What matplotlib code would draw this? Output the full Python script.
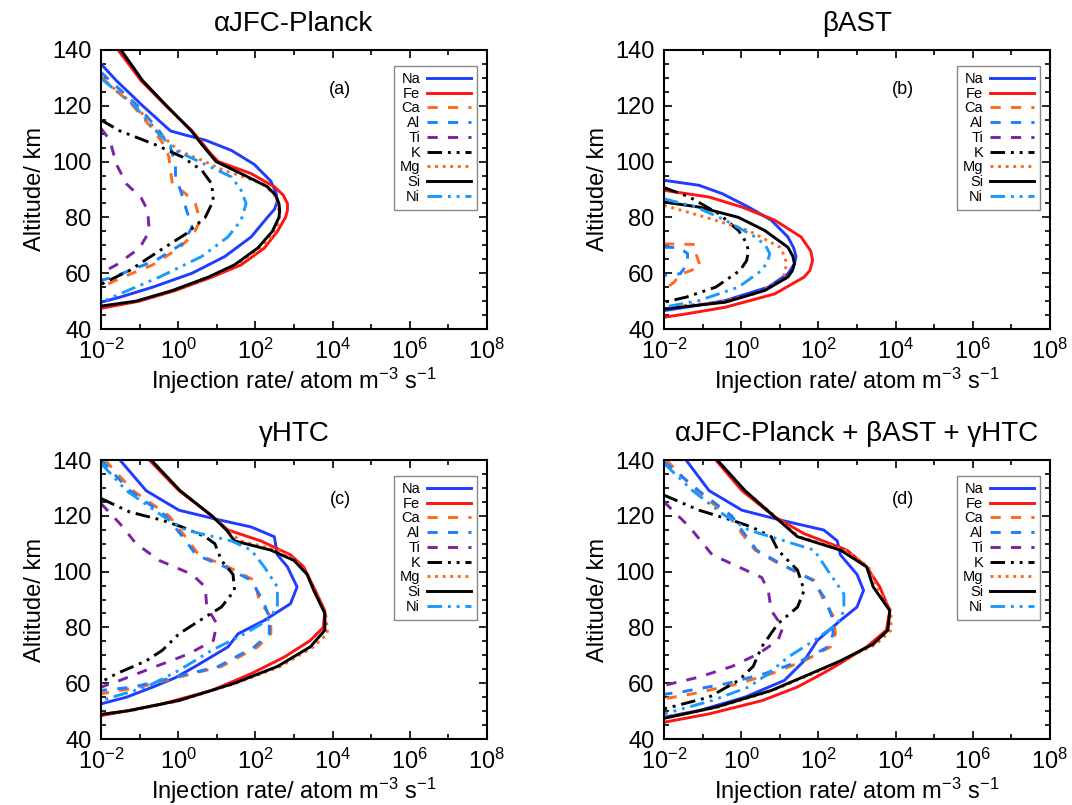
"""
Perfiles de inyeccion de metales meteoricos (4 paneles)
"""

import numpy as np
import matplotlib.pyplot as plt
from matplotlib.ticker import NullFormatter

plt.rcParams['font.family'] = ['Liberation Sans', 'DejaVu Sans']
plt.rcParams['mathtext.fontset'] = 'custom'
plt.rcParams['mathtext.rm'] = 'Liberation Sans'
plt.rcParams['mathtext.it'] = 'Liberation Sans'

# especies y titulos
especies = ['Na', 'Fe', 'Ca', 'Al', 'Ti', 'K', 'Mg', 'Si', 'Ni']
titulos = ['\u03b1JFC-Planck', '\u03b2AST', '\u03b3HTC',
           '\u03b1JFC-Planck + \u03b2AST + \u03b3HTC']
etiquetas = ['(a)', '(b)', '(c)', '(d)']
xticks_exp = [-2, 0, 2, 4, 6, 8]
yticks_km = [40, 60, 80, 100, 120, 140]

# datos: pares (altitud km, log10 tasa de inyeccion)
# panel (a)
A_NA = [(135, -2), (129, -1.6), (120, -0.92), (113.6, -0.41), (111, -0.2), (109.5, 0.19),
        (107.7, 0.70), (104, 1.38), (99, 1.97), (93, 2.4), (89, 2.53), (86, 2.57), (83, 2.5),
        (80, 2.31), (73, 1.89), (66, 1.21), (60, 0.36), (55, -0.66), (51.4, -1.51), (49.6, -2)]
A_FE = [(140, -1.56), (129, -0.96), (120, -0.32), (111, 0.36), (106, 0.66), (103, 0.83),
        (100, 1.04), (95.7, 1.89), (91, 2.49), (88, 2.72), (85, 2.83), (82.5, 2.83), (80, 2.78),
        (75, 2.57), (69, 2.23), (63, 1.63), (58.6, 0.87), (53.8, -0.07), (50, -1.0), (47.4, -2)]
A_CA = [(130.4, -2), (120, -1.17), (111, -0.62), (106, -0.37), (101.7, -0.24), (96.9, -0.2),
        (92, -0.15), (88.5, 0.19), (85, 0.44), (79, 0.57), (74, 0.40), (69, 0.02), (63, -0.66),
        (58.6, -1.43), (55, -2)]
A_AL = [(132, -2), (120, -1.05), (111, -0.49), (105, -0.2), (99, -0.07), (94.5, -0.07),
        (89.7, 0.06), (83.7, 0.19), (76.5, 0.36), (70.5, 0.10), (64.6, -0.58), (58.6, -1.69),
        (57.4, -2)]
A_TI = [(111.9, -2), (107.7, -1.77), (99, -1.6), (92, -1.34), (87, -0.96), (82.5, -0.79),
        (75, -0.75), (69, -1.0), (63, -1.6), (60, -2)]
A_K = [(114.9, -2), (111, -1.51), (106, -0.58), (101.7, 0.10), (96.9, 0.61), (92, 0.87),
       (86, 0.91), (80, 0.70), (74, 0.19), (68, -0.49), (61, -1.26), (56, -2)]
A_MG = [(130, -2), (120, -1.1), (111, -0.55), (104, 0.0), (100, 0.7), (97, 1.15), (95, 1.6),
        (92, 2.2), (88, 2.5), (84, 2.6), (80, 2.62), (76, 2.56), (72, 2.35), (67, 1.95),
        (63, 1.5), (58.6, 0.8), (53.8, -0.12), (50, -1.05), (48.2, -2)]
A_SI = [(140, -1.48), (129, -0.92), (120, -0.30), (111, 0.34), (106, 0.62), (103, 0.80),
        (100, 0.98), (95.7, 1.63), (91, 2.31), (88, 2.52), (85, 2.61), (82.5, 2.63), (80, 2.61),
        (75, 2.44), (69, 2.06), (63, 1.46), (58.6, 0.78), (53.8, -0.15), (50, -1.09), (48.2, -2)]
A_NI = [(129.8, -2), (120, -1.13), (111, -0.58), (104, -0.07), (99, 0.70), (94.5, 1.38),
        (89.7, 1.63), (85, 1.76), (79, 1.63), (73, 1.29), (66, 0.61), (58.6, -0.49),
        (52.6, -1.51), (49.6, -2)]

# panel (b)
B_NA = [(93.3, -2), (91.5, -1.09), (88.5, -0.49), (83.7, 0.19), (79, 0.78), (73, 1.21),
        (69, 1.36), (66, 1.42), (63.4, 1.38), (59.8, 1.21), (55, 0.70), (50.2, -0.41),
        (47.8, -1.43), (46.6, -2)]
B_FE = [(89.7, -2), (87.3, -0.83), (83.7, 0.02), (79, 0.87), (73, 1.55), (68, 1.8), (64.6, 1.85),
        (61, 1.78), (58.6, 1.63), (52.6, 0.87), (47.8, -0.41), (45.4, -1.43), (44.2, -2)]
B_CA = [(70.5, -2), (70.3, -1.2), (67, -1.17), (64, -1.1), (62.5, -1.05), (61, -1.3),
        (59.5, -1.6), (57, -1.72), (54, -2)]
B_AL = [(69.3, -2), (69.2, -1.6), (67, -1.39), (63.4, -1.39), (59.8, -1.58), (59.2, -2)]
B_TI = []
B_K = [(90.7, -2), (87.3, -1.34), (81.3, -0.58), (75.3, -0.07), (71, 0.13), (68, 0.19),
       (64.5, 0.14), (61, -0.03), (55, -0.66), (51.4, -1.43), (49.6, -2)]
B_MG = [(84.3, -2), (80, -0.91), (75.3, 0.19), (69.3, 1.0), (66, 1.13), (63.4, 1.17),
        (60, 1.13), (57.4, 1.04), (52.6, 0.36), (49.5, -0.6), (47.8, -2)]
B_SI = [(85.5, -2), (83.7, -1.09), (80, -0.07), (75.3, 0.61), (69.3, 1.21), (66, 1.34),
        (63.4, 1.38), (61, 1.33), (58.6, 1.21), (53.8, 0.61), (49.6, -0.41), (47.2, -2)]
B_NI = [(86.7, -2), (83.7, -1.17), (79, -0.41), (73, 0.36), (70, 0.63), (67, 0.74),
        (64, 0.68), (61, 0.53), (55, -0.07), (50.2, -1.09), (47.8, -2)]

# panel (c)
C_NA = [(140, -1.51), (129, -0.83), (122, 0.02), (118.6, 1.04), (116, 1.89), (112.5, 2.49),
        (106, 2.57), (101.7, 2.83), (94.5, 3.08), (88.5, 2.91), (82.5, 2.23), (77.7, 1.55),
        (73, 1.29), (66, 0.44), (62, -0.07), (58.6, -0.66), (55, -1.34), (52.6, -2)]
C_FE = [(140, -0.75), (129, 0.02), (120, 0.87), (114.9, 1.29), (111, 2.14), (106, 2.91),
        (101.7, 3.25), (93.3, 3.55), (86, 3.80), (80, 3.76), (75.3, 3.42), (69.3, 2.74),
        (63.4, 1.89), (57.4, 0.87), (52.6, -0.41), (49.6, -1.51), (48.4, -2)]
C_CA = [(140, -1.9), (129, -1.17), (120, -0.24), (111, 0.27), (106, 0.53), (101.7, 1.29),
        (96.9, 1.97), (89.7, 2.10), (83.7, 2.40), (77.7, 2.40), (73, 2.06), (66, 1.12),
        (62.2, 0.02), (58.6, -1.0), (56.2, -2)]
C_AL = [(140, -2), (129, -1.25), (120, -0.32), (111, 0.2), (106, 0.46), (101.7, 1.21),
        (96.9, 1.89), (89.7, 2.19), (83.7, 2.36), (77.7, 2.36), (73, 1.97), (66, 1.04),
        (62.2, -0.07), (58.6, -1.17), (57.4, -2)]
C_TI = [(124.4, -2), (117.2, -1.51), (110, -1.09), (104, -0.49), (99, 0.36), (94.5, 0.70),
        (87.3, 0.74), (81.3, 1.0), (75.3, 0.91), (70.5, 0.27), (66, -0.58), (61, -1.51),
        (58.6, -2)]
C_K = [(126.2, -2), (121.4, -1.26), (118.4, -0.41), (116, 0.10), (112.5, 0.70), (110, 0.95),
       (104, 1.12), (99, 1.42), (93.3, 1.46), (87.3, 1.12), (83.7, 0.70), (77.7, 0.02),
       (71.8, -0.41), (68, -0.83), (63.4, -1.6), (60.4, -2)]
C_MG = [(140, -0.7), (129, 0.05), (120, 0.87), (114.9, 1.28), (111, 1.6), (107.7, 2.6),
        (104, 3.05), (99, 3.34), (93.3, 3.52), (85, 3.82), (77.8, 3.87), (73, 3.5), (66, 2.65),
        (60, 1.5), (53.8, 0.05), (50.2, -1.2), (49, -2)]
C_SI = [(140, -0.7), (129, 0.05), (120, 0.87), (114.9, 1.25), (111, 1.46), (107.7, 2.40),
        (104, 3.0), (99, 3.34), (93.3, 3.51), (85, 3.80), (79, 3.80), (73, 3.42), (66, 2.57),
        (60, 1.46), (53.8, 0.02), (50.2, -1.26), (48.8, -2)]
C_NI = [(138.8, -2), (129, -1.34), (120, -0.41), (114.9, 0.19), (111, 1.38), (107.7, 1.89),
        (101.7, 2.23), (94.5, 2.57), (87.3, 2.57), (82.5, 2.31), (77.7, 1.72), (71.8, 0.87),
        (64.6, 0.02), (58.6, -0.83), (53.8, -2)]

# panel (d)
D_NA = [(140, -1.43), (129, -0.83), (122, 0.02), (118.4, 1.04), (114.9, 2.14), (111, 2.49),
        (106, 2.57), (99, 3.0), (93.3, 3.17), (87.3, 3.0), (82.5, 2.57), (75.3, 1.97),
        (68, 1.63), (61, 1.12), (55, 0.10), (50.2, -1.09), (47.8, -2)]
D_FE = [(140, -0.66), (129, 0.02), (119.6, 0.87), (113.6, 1.63), (107.7, 2.74), (101.7, 3.25),
        (94.5, 3.59), (86, 3.85), (79, 3.76), (73, 3.25), (67, 2.55), (63.4, 2.1),
        (58.6, 1.45), (53.8, 0.55), (49, -0.83), (46, -2)]
D_CA = [(140, -1.94), (129, -1.17), (120, -0.32), (113.6, 0.02), (107.7, 0.36), (103, 0.95),
        (96.9, 1.89), (89.7, 2.14), (83.7, 2.40), (77.7, 2.44), (73, 2.31), (68, 1.63),
        (63.4, 0.78), (59.8, -0.07), (56.2, -1.26), (54.4, -2)]
D_AL = [(139.4, -2), (129, -1.1), (120, -0.25), (113.6, 0.08), (107.7, 0.4), (103, 1.0),
        (96.9, 1.85), (89.7, 2.2), (83.7, 2.35), (77.7, 2.38), (73, 2.25), (68, 1.55),
        (63.4, 0.6), (59.8, -0.4), (57, -1.5), (56, -2)]
D_TI = [(125, -2), (116, -1.34), (106, -0.75), (101.7, -0.07), (97.9, 0.53), (93.3, 0.70),
        (86, 0.78), (80, 1.08), (75.3, 0.95), (70.5, 0.44), (66, -0.24), (62.2, -1.09),
        (59.2, -2)]
D_K = [(127.4, -2), (122, -1.09), (118.4, -0.24), (116, 0.27), (112.5, 0.78), (107.7, 0.95),
       (100.5, 1.46), (93.3, 1.63), (87.3, 1.46), (81.3, 0.95), (73, 0.53), (66, 0.31),
       (61, -0.07), (55, -0.83), (50.8, -2)]
D_MG = [(140, -0.62), (129, 0.1), (119.6, 0.9), (112.5, 1.5), (107.7, 2.7), (101.7, 3.3),
        (94.5, 3.5), (86, 3.88), (79, 3.88), (74, 3.5), (68, 2.6), (63.4, 1.85), (57.4, 0.82),
        (51.4, -0.6), (47.8, -2)]
D_SI = [(140, -0.62), (129, 0.1), (119.6, 0.87), (112.5, 1.46), (107.7, 2.57), (101.7, 3.25),
        (94.5, 3.42), (86, 3.85), (79, 3.80), (74, 3.42), (68, 2.57), (63.4, 1.80), (57.4, 0.78),
        (51.4, -0.66), (47.4, -2)]
D_NI = [(138.8, -2), (129, -1.26), (120, -0.41), (114.9, 0.19), (111, 1.12), (107.7, 1.89),
        (99, 2.31), (92, 2.66), (86, 2.66), (81.3, 2.49), (75.3, 1.89), (69.3, 1.21),
        (63.4, 0.70), (58.6, 0.19), (53.8, -0.75), (49, -2)]

paneles = [
    [A_NA, A_FE, A_CA, A_AL, A_TI, A_K, A_MG, A_SI, A_NI],
    [B_NA, B_FE, B_CA, B_AL, B_TI, B_K, B_MG, B_SI, B_NI],
    [C_NA, C_FE, C_CA, C_AL, C_TI, C_K, C_MG, C_SI, C_NI],
    [D_NA, D_FE, D_CA, D_AL, D_TI, D_K, D_MG, D_SI, D_NI],
]

# estilos de linea por especie
estilos = {
    'Na': ('#1f3cff', '-'),
    'Fe': ('#ff1414', '-'),
    'Ca': ('#ff6a1e', (0, (3.5, 3.5))),
    'Al': ('#1a80ff', (0, (3.5, 3.5))),
    'Ti': ('#7b22a8', (0, (3.5, 3.5))),
    'K': ('#000000', (0, (5, 2, 1, 2, 1, 2))),
    'Mg': ('#ff6a1e', (0, (1, 1.6))),
    'Si': ('#000000', '-'),
    'Ni': ('#1a9aff', (0, (5, 2, 1, 2, 1, 2))),
}

fig = plt.figure(figsize=(10.72, 8.05), dpi=100)
posiciones = [
    [101 / 1072, 476 / 805, 386 / 1072, 279 / 805],
    [664 / 1072, 476 / 805, 386 / 1072, 279 / 805],
    [101 / 1072, 66 / 805, 386 / 1072, 279 / 805],
    [664 / 1072, 66 / 805, 386 / 1072, 279 / 805],
]

for i, datos in enumerate(paneles):
    ax = fig.add_axes(posiciones[i])
    for nombre, perfil in zip(especies, datos):
        color, ls = estilos[nombre]
        if perfil:
            alt = np.array([p[0] for p in perfil])
            tasa = 10.0 ** np.array([p[1] for p in perfil])
        else:
            alt, tasa = [], []
        ax.plot(tasa, alt, color=color, linestyle=ls, linewidth=2.1, label=nombre)

    ax.set_xscale('log')
    ax.set_xlim(1e-2, 1e8)
    ax.set_ylim(40, 140)
    ax.set_xticks([10.0 ** e for e in xticks_exp])
    ax.set_xticklabels(['$\\mathregular{10^{%d}}$' % e for e in xticks_exp])
    ax.set_xticks([10.0 ** e for e in range(-1, 8, 2)], minor=True)
    ax.xaxis.set_minor_formatter(NullFormatter())
    ax.set_yticks(yticks_km)
    ax.set_yticks(np.arange(40, 141, 5), minor=True)
    ax.tick_params(which='both', direction='in', top=True, right=True,
                   labelsize=17, width=1.2, pad=7)
    ax.tick_params(which='major', length=6)
    ax.tick_params(which='minor', length=3.5)
    for s in ax.spines.values():
        s.set_linewidth(1.5)

    ax.set_title(titulos[i], fontsize=20, pad=14)
    ax.set_xlabel('Injection rate/ atom m$^{-3}$ s$^{-1}$', fontsize=17, labelpad=1)
    ax.set_ylabel('Altitude/ km', fontsize=17, labelpad=4)
    ax.text(0.62, 0.86, etiquetas[i], transform=ax.transAxes, fontsize=13,
            ha='center', va='center')

    leg = ax.legend(loc='upper right', bbox_to_anchor=(0.974, 0.942), borderaxespad=0,
                    fontsize=10.5, markerfirst=False, handlelength=3.0, handletextpad=0.5,
                    labelspacing=0.05, fancybox=False, framealpha=1, borderpad=0.4)
    leg.get_frame().set_edgecolor('#888888')
    leg.get_frame().set_linewidth(1.0)
    for t in leg.get_texts():
        t.set_ha('right')

plt.savefig('out.png', dpi=100)
